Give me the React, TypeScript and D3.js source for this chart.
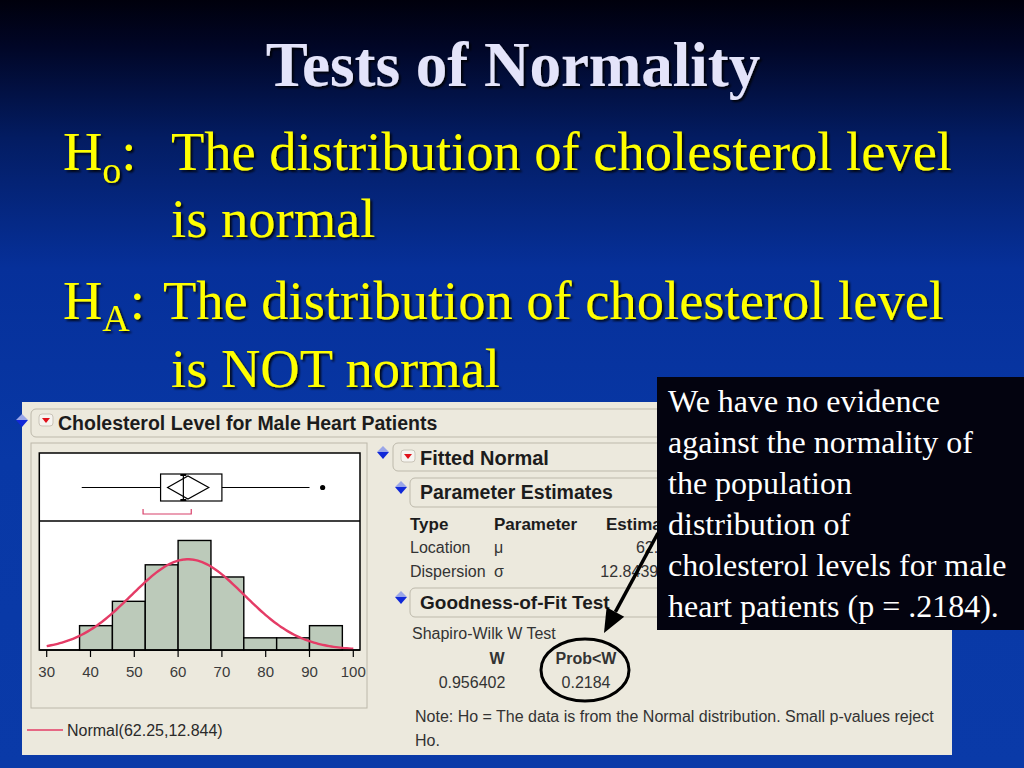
import * as d3 from 'd3';
import * as React from 'react';

// histogram of cholesterol levels (bin edges + counts)
const binEdges = [37.5, 45, 52.5, 60, 67.5, 75, 82.5, 90, 97.5];
const binCounts = [2, 4, 7, 9, 6, 1, 1, 2];
const xTicks = [30, 40, 50, 60, 70, 80, 90, 100];

// box plot: whisker low, Q1, median, Q3, whisker high
const quantiles = [38, 56, 61.2, 70, 90];
const outliers = [93];
// mean diamond: lower CI, mean, upper CI
const meanDiamond = [57.6, 62.25, 67];
const shortestHalf = [52, 63];

// fitted normal
const fitMean = 62.25;
const fitSd = 12.844;
const sampleSize = 32;

const paramHeaders = ['Type', 'Parameter', 'Estimate'];
const paramTypes = ['Location', 'Dispersion'];
const paramSymbols = ['μ', 'σ'];
const paramEstimates = ['62.25', '12.843984'];

const swLabels = ['W', 'Prob<W'];
const swValues = ['0.956402', '0.2184'];

const noteLines = [
  'We have no evidence',
  'against the normality of',
  'the population',
  'distribution of',
  'cholesterol levels for male',
  'heart patients (p = .2184).',
];

const W = 1024;
const H = 768;
const serif = '"Liberation Serif", "Times New Roman", serif';
const sans = '"Liberation Sans", Arial, sans-serif';

// annotation box (covers the right side of the report)
const noteBox = { x: 657, y: 377, w: 367, h: 253 };

const BlueDiamond: React.FC<{ cx: number; cy: number }> = ({ cx, cy }) => (
  <g>
    <path d={`M${cx},${cy - 7} L${cx + 6},${cy - 1} L${cx - 6},${cy - 1} Z`} fill="#9aa6e8" />
    <path d={`M${cx - 6},${cy - 1} L${cx + 6},${cy - 1} L${cx},${cy + 6} Z`} fill="#1028d8" />
  </g>
);

const RedIcon: React.FC<{ x: number; y: number }> = ({ x, y }) => (
  <g>
    <rect x={x} y={y} width={14} height={12} rx={3} fill="#f6f4f0" stroke="#c9c4b8" />
    <path d={`M${x + 3},${y + 4} L${x + 11},${y + 4} L${x + 7},${y + 9} Z`} fill="#e0101a" />
  </g>
);

export default function App() {
  const x = d3.scaleLinear().domain([30, 100]).range([46.7, 353.3]);
  const yH = d3.scaleLinear().domain([0, 10.6]).range([650, 521]);
  const binWidth = binEdges[1] - binEdges[0];

  const pdf = (v: number) =>
    Math.exp(-0.5 * ((v - fitMean) / fitSd) ** 2) / (fitSd * Math.sqrt(2 * Math.PI));
  const curvePts = d3.range(30, 100.001, 0.5).map((v) => [v, sampleSize * binWidth * pdf(v)] as [number, number]);
  const line = d3
    .line<[number, number]>()
    .x((d) => x(d[0]))
    .y((d) => yH(d[1]));

  const boxY = 487.5;
  const boxTop = 474;
  const boxBot = 501;

  // arrow annotation
  const a0 = [658, 533];
  const a1 = [604, 633];
  const dx = a1[0] - a0[0];
  const dy = a1[1] - a0[1];
  const len = Math.hypot(dx, dy);
  const ux = dx / len;
  const uy = dy / len;
  const headL = 24;
  const headW = 10;
  const bx = a1[0] - ux * headL;
  const by = a1[1] - uy * headL;
  const head = `M${a1[0]},${a1[1]} L${bx - uy * headW},${by + ux * headW} L${bx + uy * headW},${by - ux * headW} Z`;

  return (
    <svg
      width={W}
      height={H}
      style={{ position: 'absolute', left: 0, top: 0, display: 'block' }}
    >
      <defs>
        <linearGradient id="bg" x1="0" y1="0" x2="0" y2="1">
          <stop offset="0%" stopColor="#00000c" />
          <stop offset="6%" stopColor="#010626" />
          <stop offset="18%" stopColor="#031c62" />
          <stop offset="35%" stopColor="#06309a" />
          <stop offset="60%" stopColor="#0838a6" />
          <stop offset="100%" stopColor="#0a3aa8" />
        </linearGradient>
        <filter id="shadow" x="-5%" y="-20%" width="110%" height="140%">
          <feDropShadow dx="2" dy="2" stdDeviation="0.8" floodColor="#000000" floodOpacity="0.85" />
        </filter>
        <clipPath id="reportClip">
          <rect x={0} y={0} width={noteBox.x} height={H} />
          <rect x={noteBox.x} y={noteBox.y + noteBox.h} width={W - noteBox.x} height={H} />
        </clipPath>
      </defs>
      <rect width={W} height={H} fill="url(#bg)" />

      <text
        x={513}
        y={86}
        textAnchor="middle"
        fontFamily={serif}
        fontWeight="bold"
        fontSize={63}
        fill="#e4e4fa"
        filter="url(#shadow)"
      >
        Tests of Normality
      </text>

      <g fontFamily={serif} fontSize={54.5} fill="#ffff00" filter="url(#shadow)">
        <text x={63} y={170}>
          H<tspan fontSize={38} dy={13}>o</tspan>
          <tspan dy={-13}>:</tspan>
        </text>
        <text x={171} y={170}>The distribution of cholesterol level</text>
        <text x={171} y={237}>is normal</text>
        <text x={63} y={319}>
          H<tspan fontSize={38} dy={12}>A</tspan>
          <tspan dy={-12}>:</tspan>
        </text>
        <text x={163} y={319}>The distribution of cholesterol level</text>
        <text x={171} y={387}>is NOT normal</text>
      </g>

      {/* JMP report panel */}
      <rect x={22} y={402} width={930} height={353} fill="#ece9dd" />

      <g fontFamily={sans} fill="#1c1c1c" clipPath="url(#reportClip)">
        <BlueDiamond cx={22} cy={421} />
        <rect x={31} y={409} width={720} height={28} rx={5} fill="none" stroke="#bdb9ab" />
        <RedIcon x={39} y={414} />
        <text x={58} y={430} fontWeight="bold" fontSize={19.5}>
          Cholesterol Level for Male Heart Patients
        </text>

        <rect x={31} y={443} width={336} height={265} fill="none" stroke="#bcb8aa" />
        <rect x={39.3} y={453} width={320.7} height={197} fill="#ffffff" stroke="#000" strokeWidth={1.5} />
        <line x1={39.3} x2={360} y1={521} y2={521} stroke="#000" strokeWidth={1.5} />

        {/* box plot */}
        <g stroke="#000" fill="none" strokeWidth={1.2}>
          <line x1={x(quantiles[0])} x2={x(quantiles[1])} y1={boxY} y2={boxY} />
          <line x1={x(quantiles[3])} x2={x(quantiles[4])} y1={boxY} y2={boxY} />
          <rect x={x(quantiles[1])} y={boxTop} width={x(quantiles[3]) - x(quantiles[1])} height={boxBot - boxTop} />
          <line x1={x(quantiles[2])} x2={x(quantiles[2])} y1={boxTop} y2={boxBot} />
          <line x1={x(quantiles[2]) - 3} x2={x(quantiles[2]) + 3} y1={boxTop + 1} y2={boxTop + 1} strokeWidth={2} />
          <line x1={x(quantiles[2]) - 3} x2={x(quantiles[2]) + 3} y1={boxBot - 1} y2={boxBot - 1} strokeWidth={2} />
          <path
            d={`M${x(meanDiamond[0])},${boxY} L${x(meanDiamond[1])},${boxTop + 2} L${x(meanDiamond[2])},${boxY} L${x(meanDiamond[1])},${boxBot - 2} Z`}
          />
        </g>
        {outliers.map((o) => (
          <circle key={o} cx={x(o)} cy={boxY} r={2.6} fill="#000" />
        ))}
        <path
          d={`M${x(shortestHalf[0])},509 L${x(shortestHalf[0])},514 L${x(shortestHalf[1])},514 L${x(shortestHalf[1])},509`}
          fill="none"
          stroke="#d8406a"
          strokeWidth={1.2}
        />

        {/* histogram */}
        {binCounts.map((c, i) => (
          <rect
            key={i}
            x={x(binEdges[i])}
            y={yH(c)}
            width={x(binEdges[i + 1]) - x(binEdges[i])}
            height={yH(0) - yH(c)}
            fill="#bccaba"
            stroke="#000"
            strokeWidth={1.4}
          />
        ))}
        <path d={line(curvePts) ?? ''} fill="none" stroke="#e43c66" strokeWidth={2.4} />
        <line x1={39.3} x2={360} y1={650} y2={650} stroke="#000" strokeWidth={1.5} />
        {xTicks.map((t) => (
          <g key={t}>
            <line x1={x(t)} x2={x(t)} y1={650} y2={657} stroke="#000" strokeWidth={1.2} />
            <text x={x(t)} y={677} textAnchor="middle" fontSize={15} fill="#3a3a3a">
              {t}
            </text>
          </g>
        ))}

        <line x1={27} x2={63} y1={730} y2={730} stroke="#e43c66" strokeWidth={1.6} />
        <text x={67} y={736} fontSize={16} fill="#2a2a2a">
          Normal({fitMean},{fitSd})
        </text>

        {/* fitted normal report */}
        <BlueDiamond cx={383} cy={453} />
        <rect x={393} y={443} width={400} height={28} rx={5} fill="none" stroke="#bdb9ab" />
        <RedIcon x={401} y={450} />
        <text x={420} y={464.5} fontWeight="bold" fontSize={20}>
          Fitted Normal
        </text>

        <BlueDiamond cx={401} cy={488} />
        <rect x={410} y={478} width={400} height={29} rx={5} fill="none" stroke="#bdb9ab" />
        <text x={420} y={499} fontWeight="bold" fontSize={19.5}>
          Parameter Estimates
        </text>

        <g fontSize={16}>
          {paramHeaders.map((h, i) => (
            <text key={h} x={[410, 494, 606][i]} y={530} fontWeight="bold" fontSize={17}>
              {h}
            </text>
          ))}
          {paramTypes.map((t, i) => (
            <g key={t} fill="#333">
              <text x={410} y={553 + i * 24}>{t}</text>
              <text x={494} y={553 + i * 24}>{paramSymbols[i]}</text>
              <text x={676} y={553 + i * 24} textAnchor="end">{paramEstimates[i]}</text>
            </g>
          ))}
        </g>

        <BlueDiamond cx={401} cy={598} />
        <rect x={410} y={588} width={400} height={29} rx={5} fill="none" stroke="#bdb9ab" />
        <text x={420} y={609} fontWeight="bold" fontSize={19}>
          Goodness-of-Fit Test
        </text>

        <g fontSize={16} fill="#333">
          <text x={412} y={639}>Shapiro-Wilk W Test</text>
          {swLabels.map((l, i) => (
            <text key={l} x={[497, 586][i]} y={664} textAnchor="middle" fontWeight="bold">
              {l}
            </text>
          ))}
          {swValues.map((v, i) => (
            <text key={v} x={[472, 586][i]} y={688} textAnchor="middle">
              {v}
            </text>
          ))}
          <text x={415} y={722}>
            Note: Ho = The data is from the Normal distribution. Small p-values reject
          </text>
          <text x={415} y={746}>Ho.</text>
        </g>
        <ellipse cx={585} cy={670} rx={44} ry={31} fill="none" stroke="#000" strokeWidth={3} />
      </g>

      {/* annotation */}
      <rect x={noteBox.x} y={noteBox.y} width={noteBox.w} height={noteBox.h} fill="#03030f" />
      <g fontFamily={serif} fontSize={32} fill="#ffffff">
        {noteLines.map((l, i) => (
          <text key={l} x={668} y={412 + i * 41}>
            {l}
          </text>
        ))}
      </g>
      <line x1={a0[0]} y1={a0[1]} x2={bx} y2={by} stroke="#000" strokeWidth={3.5} />
      <path d={head} fill="#000" />
    </svg>
  );
}
